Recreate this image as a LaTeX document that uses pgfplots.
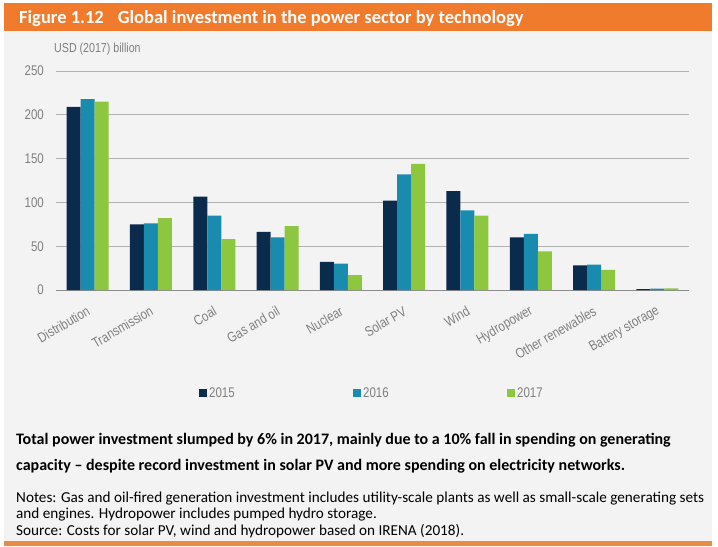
\documentclass[border=0pt]{standalone}
\usepackage{pgfplots}
\pgfplotsset{compat=1.18}
\usepackage{fontspec}
\setmainfont{Carlito}
\newfontfamily\chartfont[FakeStretch=0.82]{Liberation Sans}
\definecolor{bgray}{HTML}{F3F3F3}
\definecolor{ieaorange}{HTML}{F07B2C}
\definecolor{ieaorange2}{HTML}{E98A45}
\definecolor{c2015}{HTML}{0B2B4C}
\definecolor{c2016}{HTML}{188BAE}
\definecolor{c2017}{HTML}{8DC63F}
\definecolor{txtgray}{HTML}{7F7F7F}
\definecolor{gridgray}{HTML}{B2B2B2}
\pgfplotstableread{
x v2015 v2016 v2017
0 209 218 215
1 75 76 82
2 106.5 85 58
3 66.5 60 73
4 32 30 17
5 102 132 144
6 113 91 85
7 60 64 44
8 28 29 23
9 1 1.5 1.8
}\datatable
\begin{document}
\begin{tikzpicture}
\fill[white] (0,0) rectangle (718bp,-547bp);
\fill[bgray] (4bp,-31bp) rectangle (712bp,-541bp);
\fill[ieaorange] (4bp,-3bp) rectangle (712bp,-31bp);
\fill[ieaorange2] (4bp,-541bp) rectangle (712bp,-546bp);
\node[anchor=base west, inner sep=0pt, text=white, font=\fontsize{18.5bp}{21bp}\selectfont\bfseries] at (19bp,-23.5bp) {Figure 1.12\hspace{14bp}Global investment in the power sector by technology};
\node[anchor=base west, inner sep=0pt, text=txtgray, font=\chartfont\fontsize{13bp}{15bp}\selectfont] at (54bp,-52bp) {USD (2017) billion};
\begin{axis}[
  at={(56bp,-290bp)}, anchor=south west,
  scale only axis, width=633bp, height=219bp,
  xmin=-0.5, xmax=9.5, ymin=0, ymax=250,
  ytick={0,50,...,250},
  xtick={0,...,9},
  xticklabels={Distribution,Transmission,Coal,Gas and oil,Nuclear,Solar PV,Wind,Hydropower,Other renewables,Battery storage},
  ymajorgrids, grid style={gridgray, line width=0.8bp},
  axis lines*=left,
  x axis line style={draw=gray!90, line width=0.9bp, -},
  y axis line style={draw=none},
  major tick length=0pt,
  /pgf/number format/assume math mode=true,
  tick label style={font=\chartfont\fontsize{14bp}{16bp}\selectfont, text=txtgray, inner sep=0pt},
  yticklabel style={anchor=east, xshift=-12bp},
  xticklabel style={yshift=-20bp, xshift=1bp, rotate=30, anchor=east},
  ybar=0pt, bar width=14bp,
  legend columns=3,
  legend style={at={(0.2259,-0.470)}, anchor=west, draw=none, fill=none, inner sep=0pt,
    nodes={inner sep=0pt, outer sep=0pt},
    font=\chartfont\fontsize{14bp}{16bp}\selectfont, text=txtgray,
    /tikz/every odd column/.append style={column sep=2bp},
    /tikz/every even column/.append style={column sep=0pt}},
  legend image code/.code={\fill[#1] (0bp,-4bp) rectangle (8bp,4bp);},
]
\addplot[fill=c2015, draw=none] table[x=x, y=v2015] {\datatable};
\addplot[fill=c2016, draw=none] table[x=x, y=v2016] {\datatable};
\addplot[fill=c2017, draw=none] table[x=x, y=v2017] {\datatable};
\legend{\makebox[144bp][l]{2015},\makebox[144bp][l]{2016},\makebox[144bp][l]{2017}}
\end{axis}
\node[anchor=base west, inner sep=0pt, font=\fontsize{16bp}{19bp}\selectfont\bfseries] at (16bp,-444bp) {Total power investment slumped by 6\% in 2017, mainly due to a 10\% fall in spending on generating};
\node[anchor=base west, inner sep=0pt, font=\fontsize{16bp}{19bp}\selectfont\bfseries] at (16bp,-470bp) {capacity -- despite record investment in solar PV and more spending on electricity networks.};
\node[anchor=base west, inner sep=0pt, font=\fontsize{15.2bp}{17bp}\selectfont] at (16bp,-502bp) {Notes: Gas and oil-fired generation investment includes utility-scale plants as well as small-scale generating sets};
\node[anchor=base west, inner sep=0pt, font=\fontsize{15.2bp}{17bp}\selectfont] at (16bp,-518.5bp) {and engines. Hydropower includes pumped hydro storage.};
\node[anchor=base west, inner sep=0pt, font=\fontsize{15.2bp}{17bp}\selectfont] at (16bp,-535bp) {Source: Costs for solar PV, wind and hydropower based on IRENA (2018).};
\end{tikzpicture}
\end{document}
